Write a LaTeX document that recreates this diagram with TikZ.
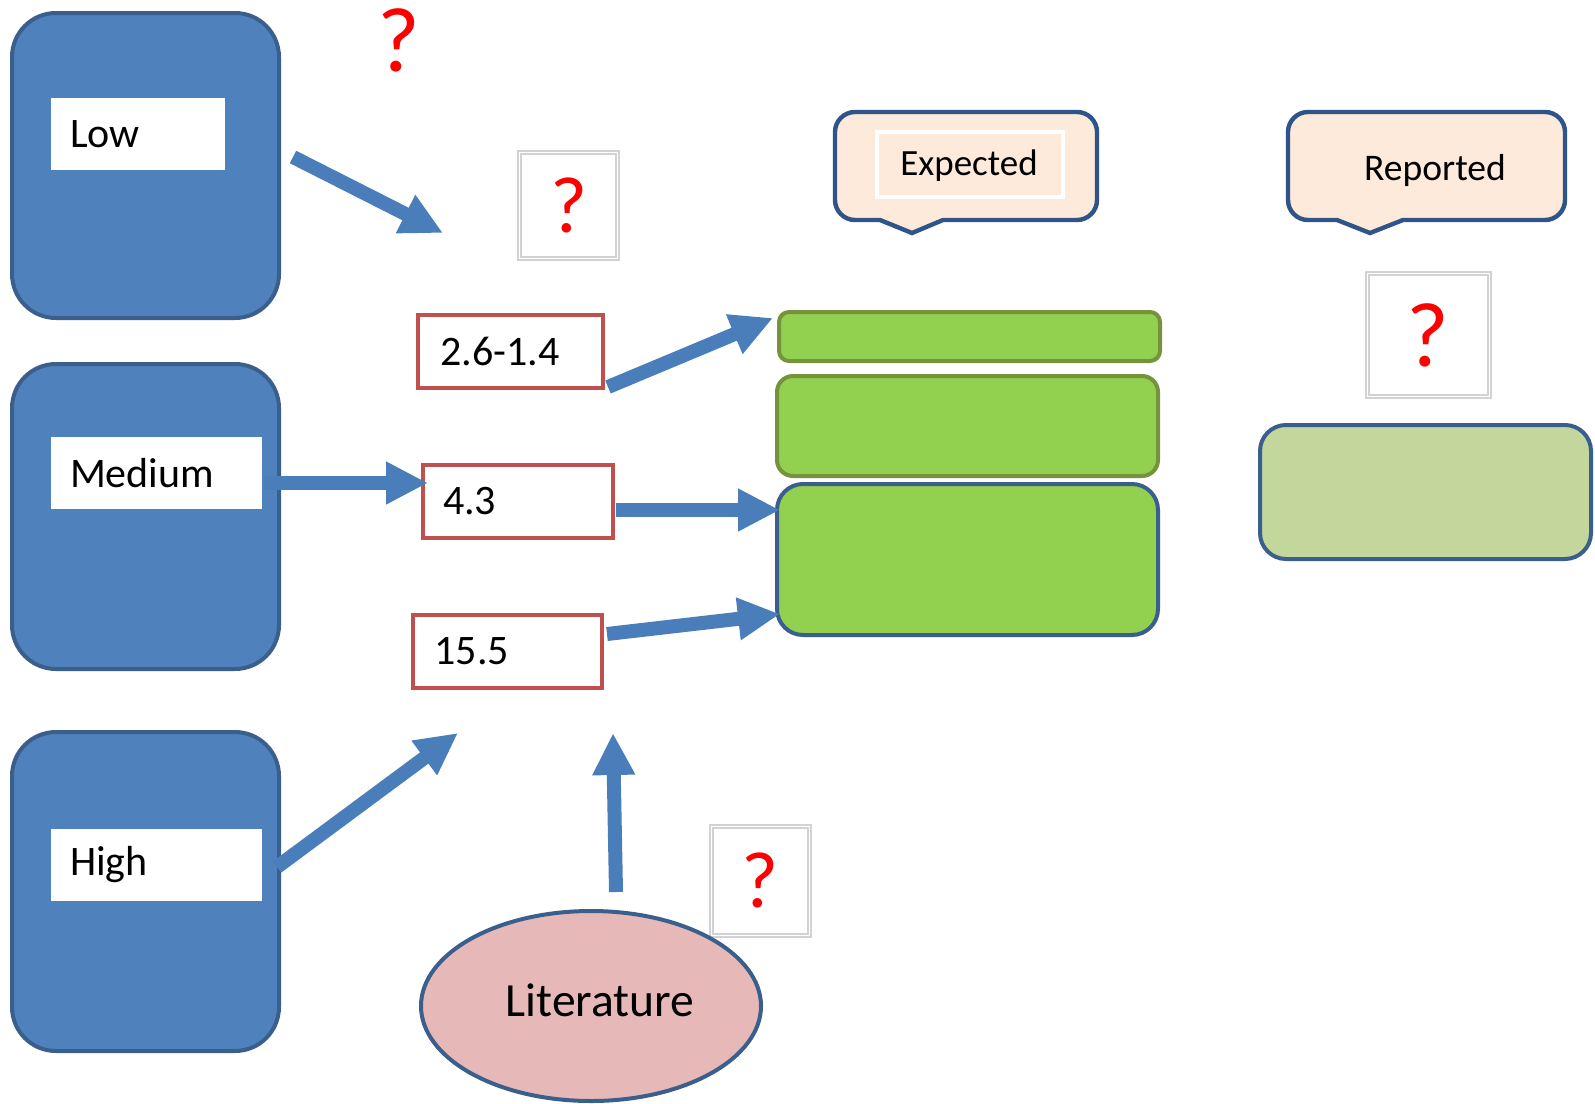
\documentclass[tikz,border=0pt]{standalone}
\usepackage{fontspec}
\setmainfont{Carlito}
\usetikzlibrary{arrows.meta,shapes.geometric}
\definecolor{bfill}{HTML}{4F81BD}
\definecolor{bline}{HTML}{3A5F8C}
\definecolor{arr}{HTML}{4A7EBB}
\definecolor{rline}{HTML}{C0504D}
\definecolor{gfill}{HTML}{92D050}
\definecolor{gline}{HTML}{76923C}
\definecolor{lgfill}{HTML}{C3D69B}
\definecolor{cfill}{HTML}{FDEADA}
\definecolor{cline}{HTML}{2E5489}
\definecolor{pfill}{HTML}{E6B9B8}
\tikzset{
  bigbox/.style={draw=bline,fill=bfill,line width=2pt,rounded corners=22pt,minimum width=133.5pt},
  lbl/.style={fill=white,inner sep=0pt,inner xsep=9.5pt,minimum height=36pt,align=left,font=\fontsize{21}{25}\selectfont},
  numbox/.style={draw=rline,line width=2pt,fill=white,inner sep=0pt,minimum height=36.5pt,align=left,font=\fontsize{21}{25}\selectfont},
  gbox/.style={draw=gline,fill=gfill,line width=2pt},
  blk/.style={draw=arr,line width=7pt,-{Triangle[length=21pt,width=20pt]}},
  callout/.style={draw=cline,fill=cfill,line width=2.2pt},
  qmark/.style={text=red,inner sep=0pt},
  qframe/.style={draw=gray!35,line width=0.6pt}
}
\begin{document}
\begin{tikzpicture}[x=0.5pt,y=-0.5pt]
\useasboundingbox (0,0) rectangle (1595,1103);

% left blue boxes
\node[bigbox,minimum height=152.5pt] (low) at (145.5,165.5) {};
\node[bigbox,minimum height=152.5pt] (med) at (145.5,516.5) {};
\node[bigbox,minimum height=159.5pt] (high) at (145.5,891.5) {};
\node[lbl,text width=68pt] (lowlbl) at (138,134) {Low};
\node[lbl,text width=86.5pt] (medlbl) at (156.5,473) {Medium};
\node[lbl,text width=86.5pt] (highlbl) at (156.5,864.5) {High};

% top red question mark
\node[qmark,font=\fontsize{46}{50}\selectfont] (q0) at (399,40) {?};

% placeholder boxes with question marks
\draw[qframe] (518,151) rectangle (619,260);
\draw[qframe] (521,154) rectangle (616,257);
\node[qmark,font=\fontsize{40}{44}\selectfont] (q1) at (569,205) {?};
\draw[qframe] (1366,272) rectangle (1491,398);
\draw[qframe] (1369,275) rectangle (1488,395);
\node[qmark,font=\fontsize{46}{50}\selectfont] (q2) at (1428,335) {?};
\draw[qframe] (710,825) rectangle (811,937);
\draw[qframe] (713,828) rectangle (808,934);
\node[qmark,font=\fontsize{40}{44}\selectfont] (q3) at (760,880) {?};

% number boxes
\node[numbox,minimum width=92.5pt,text width=70pt,inner xsep=11pt] (n26) at (510.5,351) {2.6-1.4};
\node[numbox,minimum width=95pt,text width=75pt,inner xsep=10pt] (n43) at (518,501.5) {4.3};
\node[numbox,minimum width=94.5pt,text width=73pt,inner xsep=10.5pt] (n155) at (507.5,651) {15.5};

% green boxes
\node[gbox,rounded corners=5pt,minimum width=190.5pt,minimum height=24.5pt] (gtop) at (969.5,336.5) {};
\node[gbox,rounded corners=8pt,minimum width=190.5pt,minimum height=50pt] (gmid) at (967.5,426) {};
\node[gbox,draw=bline,rounded corners=13pt,minimum width=190.5pt,minimum height=75.5pt] (gbot) at (967.5,559.5) {};
\node[gbox,draw=bline,fill=lgfill,rounded corners=13pt,minimum width=165.5pt,minimum height=67pt] (gright) at (1425.5,492) {};

% callouts
\draw[callout] (912,233) -- (880,220) [rounded corners=10pt] -- (835,220) -- (835,112) -- (1097,112) -- (1097,220) [sharp corners] -- (943,220) -- cycle;
\draw[white,line width=2pt] (877,132) rectangle (1063,197);
\node[font=\fontsize{18.5}{22}\selectfont,inner sep=0pt] (expected) at (969,166) {Expected};
\draw[callout] (1370,233) -- (1337,220) [rounded corners=10pt] -- (1288,220) -- (1288,112) -- (1565,112) -- (1565,220) [sharp corners] -- (1403,220) -- cycle;
\node[font=\fontsize{18.8}{22}\selectfont,inner sep=0pt] (reported) at (1435,170) {Reported};

% literature ellipse
\node[ellipse,draw=bline,fill=pfill,line width=2pt,minimum width=170pt,minimum height=95pt,inner sep=0pt] (lit) at (591,1006) {};
\node[font=\fontsize{23.8}{28}\selectfont,inner sep=0pt] (littext) at (600,1000) {Literature};

% arrows
\coordinate (lowtail) at (293,157);
\coordinate (lowhead) at (443,233);
\draw[blk] (lowtail) -- (lowhead);

\coordinate (medtail) at (264,483);
\coordinate (medhead) at (428,483);
\draw[blk] (medtail) -- (medhead);

\coordinate (hightail) at (277,867);
\coordinate (highhead) at (458,733);
\draw[blk] (hightail) -- (highhead);

\coordinate (littail) at (616,892);
\coordinate (lithead) at (613,733);
\draw[blk] (littail) -- (lithead);

\coordinate (t26) at (608,387);
\coordinate (h26) at (773,318);
\draw[blk] (t26) -- (h26);

\coordinate (t43) at (616,510);
\coordinate (h43) at (780,510);
\draw[blk] (t43) -- (h43);

\coordinate (t155) at (607,634);
\coordinate (h155) at (780,614);
\draw[blk] (t155) -- (h155);
\end{tikzpicture}
\end{document}
